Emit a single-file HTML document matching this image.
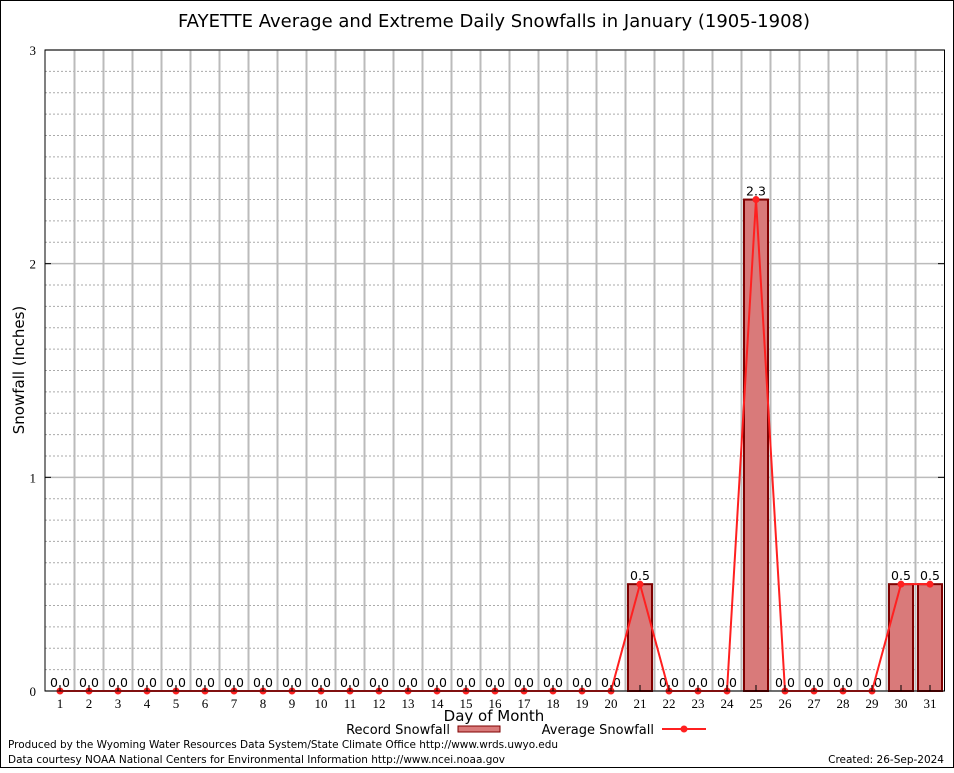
<!DOCTYPE html>
<html><head><meta charset="utf-8"><style>
body{margin:0;background:#fff;}
svg text{font-family:"DejaVu Sans","Liberation Sans",sans-serif;}
svg text.serif{font-family:"Liberation Serif",serif;}
</style></head><body>
<svg id="c" width="954" height="768" xmlns="http://www.w3.org/2000/svg">
<rect x="0.5" y="0.5" width="953" height="767" fill="#fff" stroke="#000"/>
<text x="494" y="27" font-size="18" text-anchor="middle">FAYETTE Average and Extreme Daily Snowfalls in January (1905-1908)</text>
<g id="grid"></g>
<g id="bars"></g>
<g id="line"></g>
<rect x="45" y="50" width="899.5" height="641" fill="none" stroke="#000"/>
<g id="axes"></g>
<text x="24" y="370" font-size="15" text-anchor="middle" transform="rotate(-90 24 370)">Snowfall (Inches)</text>
<text x="494" y="721" font-size="15" text-anchor="middle">Day of Month</text>
<g>
<text x="450" y="734" font-size="13" text-anchor="end">Record Snowfall</text>
<rect x="458" y="726" width="42" height="6" fill="#d97a7a" stroke="#800000"/>
</g>
<g>
<text x="654" y="734" font-size="13" text-anchor="end">Average Snowfall</text>
<line x1="662" y1="729" x2="706" y2="729" stroke="#ff2020" stroke-width="2"/>
<circle cx="684" cy="729" r="3.5" fill="#ff2020"/>
</g>
<text x="8" y="748" font-size="10.5" textLength="550">Produced by the Wyoming Water Resources Data System/State Climate Office http://www.wrds.uwyo.edu</text>
<text x="8" y="763" font-size="10.5" textLength="497">Data courtesy NOAA National Centers for Environmental Information http://www.ncei.noaa.gov</text>
<text x="944" y="763" font-size="10.5" text-anchor="end">Created:  26-Sep-2024</text>
</svg>
<script>
const days=[1,2,3,4,5,6,7,8,9,10,11,12,13,14,15,16,17,18,19,20,21,22,23,24,25,26,27,28,29,30,31];
const recordSnow=[0,0,0,0,0,0,0,0,0,0,0,0,0,0,0,0,0,0,0,0,0.5,0,0,0,2.3,0,0,0,0,0.5,0.5];
const avgSnow=[0,0,0,0,0,0,0,0,0,0,0,0,0,0,0,0,0,0,0,0,0.5,0,0,0,2.3,0,0,0,0,0.5,0.5];
const yTicks=[0,1,2,3];
const NS="http://www.w3.org/2000/svg";
function X(d){return 60+(d-1)*29;}
function Y(v){return 691-v*213.67;}
function mk(t,a,p){const e=document.createElementNS(NS,t);for(const k in a)e.setAttribute(k,a[k]);p.appendChild(e);return e;}
const grid=document.getElementById('grid'),bars=document.getElementById('bars'),line=document.getElementById('line'),axes=document.getElementById('axes');
for(let i=1;i<30;i++){if(i%10===0)continue;const g=mk('line',{x1:45,x2:944.5,y1:Y(i/10),y2:Y(i/10),stroke:'#aaa','stroke-dasharray':'2,2'},grid);

}
for(const t of yTicks){const g=mk('line',{x1:45,x2:944.5,y1:Y(t),y2:Y(t),stroke:'#bbb','stroke-width':1.5},grid);


const l=mk('text',{x:36,y:Y(t)+5,'font-size':13,'text-anchor':'end','class':'serif'},axes);l.textContent=t;


mk('line',{x1:45,x2:51,y1:Y(t),y2:Y(t),stroke:'#000'},axes);mk('line',{x1:938,x2:944.5,y1:Y(t),y2:Y(t),stroke:'#000'},axes);}
for(let i=1;i<days.length;i++){const x=X(days[i-1])+14.5;const g=mk('line',{x1:x,x2:x,y1:50,y2:691,stroke:'#bbb','stroke-width':2},grid);

}
days.forEach((d,i)=>{const x=X(d);
mk('line',{x1:x,x2:x,y1:685,y2:691,stroke:'#000'},axes);
const l=mk('text',{x:x,y:708,'font-size':13,'text-anchor':'middle','class':'serif'},axes);l.textContent=d;


const v=recordSnow[i];
if(v>0){const b=mk('rect',{x:x-12,y:Y(v),width:24,height:Y(0)-Y(v),fill:'#d97a7a',stroke:'#800000','stroke-width':2},bars);

}
const t=mk('text',{x:x,y:Y(v)-4,'font-size':12.5,'text-anchor':'middle'},bars);t.textContent=v.toFixed(1);

});
const pl=mk('polyline',{points:days.map((d,i)=>X(d)+','+Y(avgSnow[i])).join(' '),fill:'none',stroke:'#ff2020','stroke-width':2},line);


days.forEach((d,i)=>{const c=mk('circle',{cx:X(d),cy:Y(avgSnow[i]),r:3.5,fill:'#ff2020'},line);

});
</script>
</body></html>
